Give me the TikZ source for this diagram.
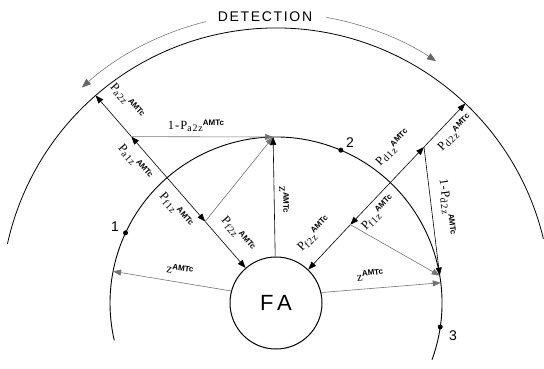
\documentclass[tikz,border=0pt]{standalone}
\usepackage{fontspec}
\setmainfont{Liberation Serif}
\setsansfont{Liberation Sans}
\usetikzlibrary{arrows.meta,calc}
\newcommand{\amtc}{\raisebox{0.75ex}{\sffamily\bfseries\fontsize{8}{8}\selectfont AMTc}}
\newcommand{\subz}[1]{\raisebox{-0.35ex}{\fontsize{10}{10}\selectfont #1}}
\newcommand{\pz}[1]{P\subz{#1}\amtc}
\begin{document}
\begin{tikzpicture}[x=1pt,y=1pt,
  arcline/.style={line width=0.9pt},
  conn/.style={line width=0.6pt,-{Triangle[length=8pt,width=6pt]}},
  faint/.style={line width=0.6pt,black!55,-{Triangle[length=8pt,width=6pt]}},
  lab/.style={font=\fontsize{12.5}{14}\selectfont\addfontfeatures{LetterSpace=8},inner sep=1pt},
  num/.style={font=\sffamily\fontsize{14}{14}\selectfont,inner sep=0pt},
  dot/.style={circle,fill,inner sep=0pt,minimum size=5pt}]
\useasboundingbox (0,0) rectangle (544,368);
\coordinate (O) at (276,65);
% arcs
\draw[arcline] ($(O)+(-20:166)$) arc[start angle=-20,end angle=193,radius=166];
\draw[line width=0.8pt] ($(O)+(13.5:275)$) arc[start angle=13.5,end angle=167.6,radius=275];
% detection
\node[font=\sffamily\fontsize{14}{14}\selectfont\addfontfeatures{LetterSpace=12},inner sep=0pt] (det) at (265,351) {DETECTION};
\draw[line width=0.5pt,black!60,-{Triangle[length=9pt,width=7pt]}] ($(O)+(104:290)$) arc[start angle=104,end angle=132,radius=290];
\draw[line width=0.5pt,black!60,-{Triangle[length=9pt,width=7pt]}] ($(O)+(80:290)$) arc[start angle=80,end angle=56.5,radius=290];
% FA
\node[circle,draw,line width=1pt,minimum size=92pt,inner sep=0pt,font=\sffamily\fontsize{22}{22}\selectfont] (FA) at (O) {F\,A};
% key points
\coordinate (T) at ($(O)+(91:166)$);
\coordinate (L1) at ($(O)+(131:166)$);
\coordinate (L2) at ($(O)+(131:275)$);
\coordinate (Lmi) at ($(O)+(131:108)$);
\coordinate (Lmo) at ($(O)+(131:220.5)$);
\coordinate (R1) at ($(O)+(46.5:166)$);
\coordinate (R2) at ($(O)+(46.5:275)$);
\coordinate (Rmi) at ($(O)+(46.5:108)$);
\coordinate (Rmo) at ($(O)+(46.5:215)$);
\coordinate (R) at ($(O)+(9.5:166)$);
\coordinate (Rb) at ($(O)+(7:166)$);
\coordinate (P) at ($(O)+(169:166)$);
\node[dot] (d1) at ($(O)+(155:166)$) {};
\node[dot] (d2) at ($(O)+(67:166)$) {};
\node[dot] (d3) at ($(O)+(-8.3:166)$) {};
\node[num] (n1) at (115,141) {1};
\node[num] (n2) at (350,225) {2};
\node[num] (n3) at (453,32) {3};
% left diagonal
\draw[conn] (L1) -- (Lmi);
\draw[conn] (Lmi) -- (FA.131);
\draw[conn] (L1) -- (Lmo);
\draw[conn] (Lmo) -- (L2);
% right diagonal
\draw[conn] (R1) -- (Rmi);
\draw[conn] (Rmi) -- (FA.46.5);
\draw[conn] (R1) -- (Rmo);
\draw[conn] (Rmo) -- (R2);
% to T
\draw[faint] (Lmo) -- (T);
\draw[faint] (Lmi) -- (T);
\draw[conn] (FA.91) -- (T);
% to R
\draw[faint] (Rmi) -- (R);
\draw[conn] (Rmo) -- (R);
\draw[faint] (FA.13) -- (Rb);
% to P
\draw[faint] (FA.165) -- (P);
% labels
\node[lab,rotate=-49] (l1) at (127,267) {\pz{a2z}};
\node[lab,rotate=-49] (l2) at (135,206) {\pz{a1z}};
\node[lab,rotate=-49] (l3) at (176,158) {\pz{f1z}};
\node[lab,rotate=-49] (l4) at (238,134) {\pz{f2z}};
\node[lab] (l5) at (196,242) {1-\pz{a2z}};
\node[lab,rotate=-90] (l6) at (284,168) {z\amtc};
\node[lab,rotate=-9] (l7) at (180,98) {z\amtc};
\node[lab,rotate=7] (l8) at (370,93) {z\amtc};
\node[lab,rotate=46] (l9) at (314,134) {\pz{f2z}};
\node[lab,rotate=46] (l10) at (378,155) {\pz{f1z}};
\node[lab,rotate=46] (l11) at (393,220) {\pz{d1z}};
\node[lab,rotate=46] (l12) at (455,235) {\pz{d2z}};
\node[lab,rotate=-83] (l13) at (447,161) {1-\pz{d2z}};
\end{tikzpicture}
\end{document}
